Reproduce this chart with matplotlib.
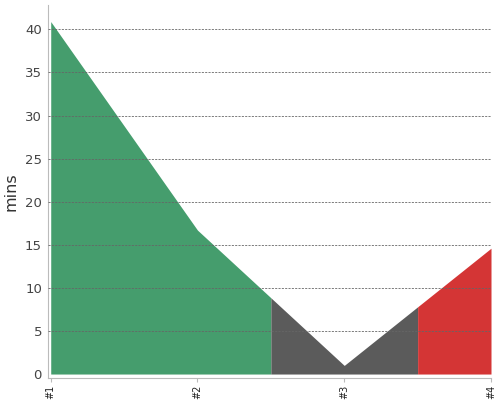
import numpy as np
import matplotlib
matplotlib.use("Agg")
import matplotlib.pyplot as plt

# values
labels = ["#1", "#2", "#3", "#4"]
mins = [40.9, 16.7, 1.0, 14.6]
# colour bands: (start, end) in category index units
bands = [(0, 1.5, "#459d6d"), (1.5, 2.5, "#5b5b5b"), (2.5, 3, "#d43535")]

x = np.arange(len(labels))
y = np.array(mins)

fig = plt.figure(figsize=(5, 4), dpi=100)
ax = fig.add_axes([0.095, 0.055, 0.887, 0.932])

for start, end, color in bands:
    xs = np.concatenate([[start], x[(x > start) & (x < end)], [end]])
    ys = np.interp(xs, x, y)
    ax.fill_between(xs, 0, ys, color=color, linewidth=0, zorder=1)

ax.set_xlim(-0.022, 3.0)
ax.set_ylim(-0.46, 42.8)
ax.set_yticks(np.arange(0, 41, 5))
ax.set_xticks(x)
ax.set_xticklabels(labels, rotation=90, fontsize=7, color="#222222")
ax.tick_params(axis="y", length=0, labelsize=9.5, labelcolor="#444444", pad=4)
ax.tick_params(axis="x", length=3, color="#bbbbbb", pad=2)
ax.set_ylabel("mins", fontsize=11.5, color="#333333")
ax.yaxis.set_label_coords(-0.066, 0.5)

ax.grid(axis="y", linestyle=(0, (2.5, 1.5)), color="#666666", linewidth=0.6, zorder=3)
ax.set_axisbelow(False)
ax.yaxis.get_gridlines()[0].set_visible(False)
for s in ["top", "right"]:
    ax.spines[s].set_visible(False)
for s in ["left", "bottom"]:
    ax.spines[s].set_color("#bbbbbb")

fig.savefig("out.png", dpi=100)
